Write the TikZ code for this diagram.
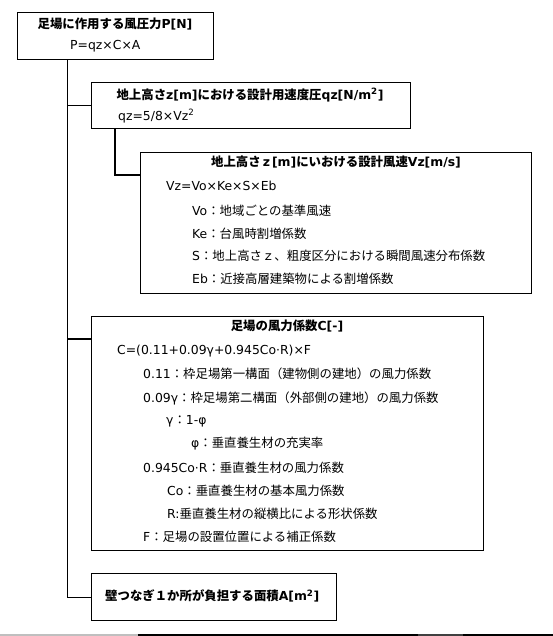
\documentclass[tikz,border=0pt]{standalone}
\usepackage{fontspec}
\setmainfont{DejaVu Sans}
\newfontfamily\cjk{Noto Sans CJK JP}
\begin{document}
\begin{tikzpicture}[x=1pt,y=-1pt,
  box/.style={draw=black,line width=1.1pt,anchor=north west,inner sep=0pt},
  conn/.style={draw=black,line width=1.1pt},
  ttl/.style={font=\fontsize{12.4}{14}\selectfont\bfseries,inner sep=0pt,anchor=center},
  txt/.style={font=\fontsize{12.4}{14}\selectfont,inner sep=0pt,anchor=west}]
\useasboundingbox (0,0) rectangle (553,636);
% boxes
\node[box,minimum width=196pt,minimum height=47pt] (b1) at (17,12) {};
\node[box,minimum width=319pt,minimum height=46pt] (b2) at (90.5,82) {};
\node[box,minimum width=391pt,minimum height=141pt] (b3) at (140,152) {};
\node[box,minimum width=392pt,minimum height=234pt] (b4) at (90.5,316) {};
\node[box,minimum width=245pt,minimum height=47pt] (b5) at (90.5,573) {};
% junction coordinates
\coordinate (trunk) at (67.5,0);
\coordinate (k) at (115,0);
\coordinate (j3) at (140,175);
\coordinate (j4) at (90.5,339);
% connectors
\draw[conn] (trunk |- b1.south) |- (b5.west);
\draw[conn] (trunk |- b2.west) -- (b2.west);
\draw[conn] (trunk |- j4) -- (j4);
\draw[conn] (k |- b2.south) |- (j3);
% box 1
\node[ttl] (t1) at (115,24) {{\cjk 足場に作用する風圧力}P[N]};
\node[txt] (t1a) at (70,46) {P=qz×C×A};
% box 2
\node[ttl] (t2) at (250,95) {{\cjk 地上高さ}z[m]{\cjk における設計用速度圧}qz[N/m\textsuperscript{2}]};
\node[txt] (t2a) at (118,116) {qz=5/8×Vz\textsuperscript{2}};
% box 3
\node[ttl] (t3) at (336,162) {{\cjk 地上高さ}\,z\,[m]{\cjk にいおける設計風速}Vz[m/s]};
\node[txt] (t3a) at (166,186) {Vz=Vo×Ke×S×Eb};
\node[txt] (t3b) at (192,211) {Vo{\cjk ：地域ごとの基準風速}};
\node[txt] (t3c) at (192,234) {Ke{\cjk ：台風時割増係数}};
\node[txt] (t3d) at (192,256) {S{\cjk ：地上高さｚ、粗度区分における瞬間風速分布係数}};
\node[txt] (t3e) at (192,279) {Eb{\cjk ：近接高層建築物による割増係数}};
% box 4
\node[ttl] (t4) at (287,326) {{\cjk 足場の風力係数}C[-]};
\node[txt] (t4a) at (117,351) {C=(0.11+0.09γ+0.945Co·R)×F};
\node[txt] (t4b) at (143,374) {0.11{\cjk ：枠足場第一構面（建物側の建地）の風力係数}};
\node[txt] (t4c) at (143,398) {0.09γ{\cjk ：枠足場第二構面（外部側の建地）の風力係数}};
\node[txt] (t4d) at (166,421) {γ{\cjk ：}1-φ};
\node[txt] (t4e) at (191,444) {φ{\cjk ：垂直養生材の充実率}};
\node[txt] (t4f) at (143,468) {0.945Co·R{\cjk ：垂直養生材の風力係数}};
\node[txt] (t4g) at (167,491) {Co{\cjk ：垂直養生材の基本風力係数}};
\node[txt] (t4h) at (167,514) {R:{\cjk 垂直養生材の縦横比による形状係数}};
\node[txt] (t4i) at (143,537) {F{\cjk ：足場の設置位置による補正係数}};
% box 5
\node[ttl,anchor=west] (t5) at (105,596) {{\cjk 壁つなぎ１か所が負担する面積}A[m\textsuperscript{2}]};
% bottom strip
\fill[black!25] (0,633.5) rectangle (138,636);
\fill[black] (138,633.5) rectangle (418,636);
\fill[black!75] (418,633.5) rectangle (463,636);
\fill[black] (463,633.5) rectangle (553,636);
\end{tikzpicture}
\end{document}
